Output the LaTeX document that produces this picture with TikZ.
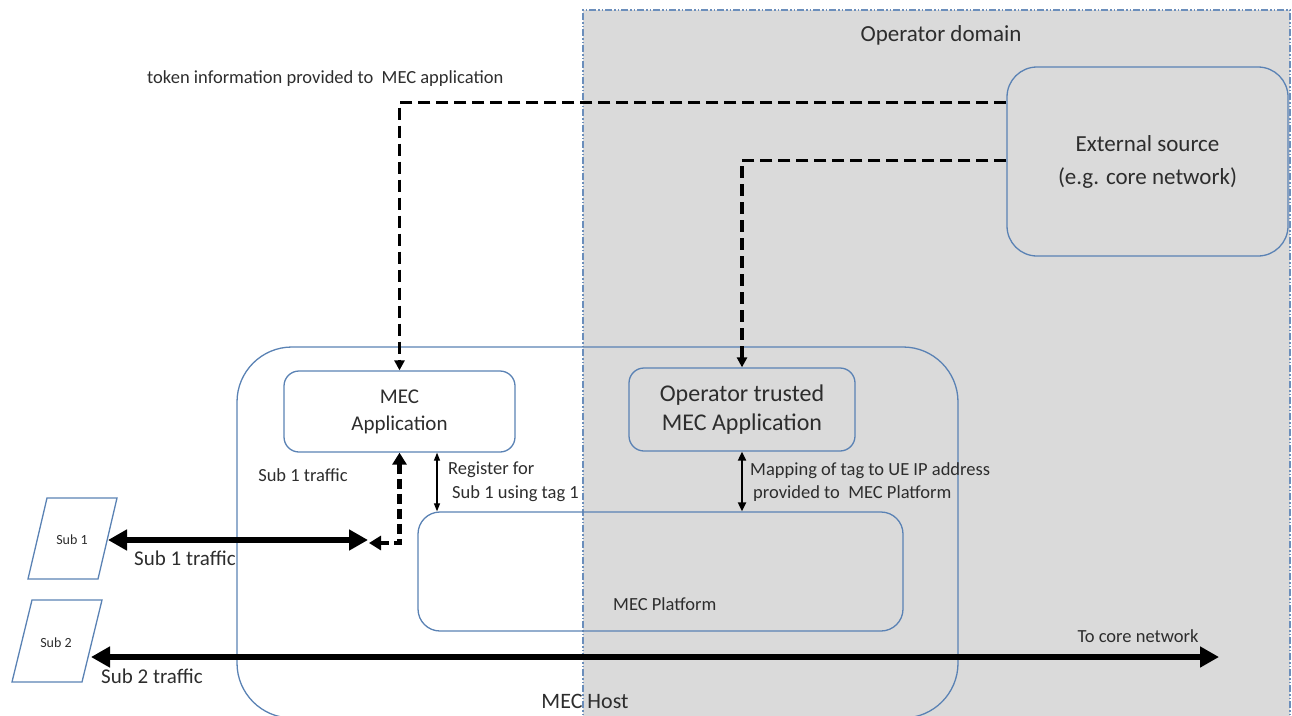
\documentclass[tikz,border=0pt]{standalone}
\usepackage{fontspec}
\setmainfont{Carlito}
\usetikzlibrary{arrows.meta}
\definecolor{boxblue}{RGB}{90,130,180}
\definecolor{domgray}{RGB}{218,218,218}
\definecolor{txt}{RGB}{45,45,45}
\begin{document}
\begin{tikzpicture}[x=1pt,y=-1pt,
  box/.style={draw=boxblue,line width=1.3pt,rounded corners=#1,inner sep=0pt,align=center,text=txt},
  box/.default=15pt,
  lbl/.style={inner sep=0pt,text=txt,align=left},
  domborder/.style={draw=boxblue!90,line width=1.8pt,dash pattern=on 7pt off 2pt on 1.5pt off 2pt on 1.5pt off 2pt},
  tok/.style={draw=black,line width=3.5pt,dash pattern=on 12pt off 6pt,-{Triangle[length=10pt,width=10pt]}},
  subdash/.style={draw=black,line width=4.5pt,dash pattern=on 10pt off 5pt,{Triangle[length=12pt,width=14pt]}-{Triangle[length=12pt,width=14pt]}},
  traffic/.style={draw=black,line width=6pt,{Triangle[length=19pt,width=20pt]}-{Triangle[length=19pt,width=20pt]}},
  thinarr/.style={draw=black,line width=1.2pt,{Triangle[length=8pt,width=6pt]}-{Triangle[length=8pt,width=6pt]}},
  maparr/.style={draw=black,line width=2pt,{Triangle[length=9pt,width=8pt]}-{Triangle[length=9pt,width=8pt]}},
  subbox/.style={draw=boxblue,line width=1.3pt}
]
\useasboundingbox (0,0) rectangle (1292,715);
\clip (0,0) rectangle (1292,715);

% operator domain
\fill[domgray] (583,10) rectangle (1290,740);
\draw[domborder] (583,740) -- (583,10) -- (1290,10) -- (1290,740);
\node[lbl,font=\fontsize{23}{27}\selectfont] (opdom) at (941,35) {Operator domain};

% boxes
\node[box=30pt,minimum width=281pt,minimum height=189pt,font=\fontsize{23}{33}\selectfont] (ext) at (1147.5,161.5) {External source\\(e.g. core network)};
\node[box=55pt,minimum width=721pt,minimum height=371pt] (host) at (597.5,532.5) {};
\node[box=15pt,minimum width=231pt,minimum height=81pt,font=\fontsize{21}{27}\selectfont] (mecapp) at (399.5,411.5) {MEC\\Application};
\node[box=15pt,minimum width=226pt,minimum height=83pt,font=\fontsize{24}{28}\selectfont] (optrust) at (742,409.5) {Operator trusted\\[1pt]MEC\ Application};
\node[box=22pt,minimum width=485pt,minimum height=119pt] (platform) at (660.5,571.5) {};

% labels
\node[lbl,anchor=west,font=\fontsize{18.5}{22}\selectfont] (toklbl) at (147,79) {token information provided to\ \ MEC application};
\node[lbl,font=\fontsize{22}{26}\selectfont] (hostlbl) at (585,701) {MEC Host};
\node[lbl,anchor=west,font=\fontsize{18.5}{22}\selectfont] (platlbl) at (613,604) {MEC Platform};
\node[lbl,font=\fontsize{18.5}{22}\selectfont] (s1in) at (303,475) {Sub 1 traffic};
\node[lbl,anchor=west,font=\fontsize{18.5}{24}\selectfont] (reglbl) at (448,482) {Register for\\\hspace{4pt}Sub 1 using tag 1};
\node[lbl,anchor=west,font=\fontsize{18.5}{23}\selectfont] (maplbl) at (750,482) {Mapping of tag to UE IP address\\\hspace{3pt}provided to\ \ MEC Platform};

% subscribers
\draw[subbox] (47,498) -- (117,498) -- (98,579) -- (28,579) -- cycle;
\node[lbl,font=\fontsize{14}{16}\selectfont] (sub1) at (72,540) {Sub 1};
\draw[subbox] (32,600) -- (102,600) -- (82,682) -- (12,682) -- cycle;
\node[lbl,font=\fontsize{14}{16}\selectfont] (sub2) at (56,643) {Sub 2};
\coordinate (sub1e) at (108,540);
\coordinate (t1end) at (368,540);
\coordinate (d1end) at (369,543);
\coordinate (sub2e) at (91,657);
\coordinate (core) at (1219,657);

\node[lbl,font=\fontsize{21}{25}\selectfont] (s1lbl) at (185,558) {Sub 1 traffic};
\node[lbl,font=\fontsize{21}{25}\selectfont] (s2lbl) at (152,676) {Sub 2 traffic};
\node[lbl,font=\fontsize{18.5}{22}\selectfont] (corelbl) at (1138,636) {To core network};

% connectors
\draw[tok] ([yshift=59pt]ext.west) -| (mecapp.north);
\draw[tok] ([yshift=1pt]ext.west) -| (optrust.north);
\draw[subdash] (mecapp.south) |- (d1end);
\draw[traffic] (sub1e) -- (t1end);
\draw[traffic] (sub2e) -- (core);
\draw[thinarr] ([xshift=37.5pt]mecapp.south) -- ([xshift=-223.5pt]platform.north);
\draw[maparr] (optrust.south) -- (optrust.south |- platform.north);
\end{tikzpicture}
\end{document}
